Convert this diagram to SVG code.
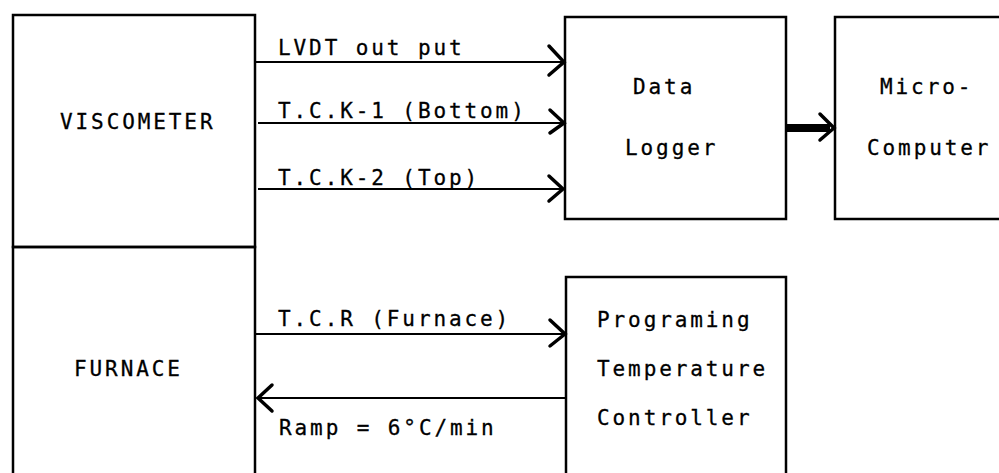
<svg xmlns="http://www.w3.org/2000/svg" width="999" height="473" viewBox="0 0 999 473">
<defs>
<style>
.box{fill:none;stroke:#000;stroke-width:2.5}
.ln{fill:none;stroke:#000;stroke-width:2.2}
.ah{fill:none;stroke:#000;stroke-width:3.5;stroke-linecap:round;stroke-linejoin:miter}
.thick{fill:none;stroke:#000;stroke-width:8}
text{font-family:"DejaVu Sans Mono","Liberation Mono",monospace;font-size:21px;letter-spacing:2.9px;fill:#000;stroke:#000;stroke-width:0.3}
</style>
</defs>
<rect width="999" height="473" fill="#fff"/>
<g id="viscometer">
<rect class="box" x="13" y="15" width="242" height="232"/>
<text x="60" y="129">VISCOMETER</text>
</g>
<g id="furnace">
<rect class="box" x="13" y="247" width="242" height="240"/>
<text x="74" y="376">FURNACE</text>
</g>
<g id="datalogger">
<rect class="box" x="565" y="17" width="221" height="202"/>
<text x="633" y="94">Data</text>
<text x="625" y="155">Logger</text>
</g>
<g id="microcomputer">
<rect class="box" x="835" y="17" width="180" height="202"/>
<text x="880" y="94">Micro-</text>
<text x="867" y="155">Computer</text>
</g>
<g id="controller">
<rect class="box" x="566" y="277" width="220" height="220"/>
<text x="597" y="327">Programing</text>
<text x="597" y="376">Temperature</text>
<text x="597" y="425">Controller</text>
</g>
<g id="connectors">
<line class="ln" x1="255" y1="62" x2="564" y2="62"/>
<polyline class="ah" points="549,46 564,62 549,75"/>
<text x="278" y="55">LVDT out put</text>
<line class="ln" x1="258" y1="123" x2="564" y2="123"/>
<polyline class="ah" points="550,110 564,123 550,133"/>
<text x="278" y="118">T.C.K-1 (Bottom)</text>
<line class="ln" x1="258" y1="189" x2="564" y2="189"/>
<polyline class="ah" points="549,176 563,189 549,201"/>
<text x="278" y="185">T.C.K-2 (Top)</text>
<line class="thick" x1="787" y1="128" x2="830" y2="128"/>
<polyline class="ah" points="820,114 834,128 820,140"/>
<line class="ln" x1="255" y1="334" x2="565" y2="334"/>
<polyline class="ah" points="550,320 565,334 550,346"/>
<text x="278" y="326">T.C.R (Furnace)</text>
<line class="ln" x1="566" y1="398" x2="257" y2="398"/>
<polyline class="ah" points="272,385 258,398 272,411"/>
<text x="279" y="435">Ramp = 6°C/min</text>
</g>
</svg>
